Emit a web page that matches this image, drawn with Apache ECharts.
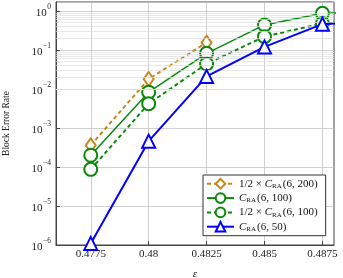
<!DOCTYPE html>
<html><head><meta charset="utf-8">
<script src="https://cdn.jsdelivr.net/npm/echarts@6/dist/echarts.min.js"></script>
<style>html,body{margin:0;padding:0;background:#fff}#c{width:343px;height:278px}</style>
</head><body><div id="c"></div>
<script>
var eps = [0.4775, 0.48, 0.4825, 0.485, 0.4875, 0.49];
var half200 = [3.6e-4, 1.8e-2, 0.155];
var c100 = [2.0e-4, 8.3e-3, 0.082, 0.44, 0.87, 0.92];
var half100 = [8.7e-5, 4.2e-3, 0.044, 0.22, 0.48, 0.58];
var c50 = [1.1e-6, 4.6e-4, 0.021, 0.12, 0.46, 0.56];
var xTicks = [0.4775, 0.48, 0.4825, 0.485, 0.4875];
var yExps = [-6, -5, -4, -3, -2, -1, 0];
var names = ['half200', 'c100', 'half100', 'c50'];
var legendTexts = {
  half200: '{n|1/2 × }{c|C}{s|RA}{n|(6, 200)}',
  c100: '{c|C}{s|RA}{n|(6, 100)}',
  half100: '{n|1/2 × }{c|C}{s|RA}{n|(6, 100)}',
  c50: '{c|C}{s|RA}{n|(6, 50)}'
};

function pairs(ys){ return ys.map(function(y,i){ return [eps[i], y]; }); }
var minorLines = [];
yExps.forEach(function(e){
  for (var m = 2; m <= 9; m++) {
    var v = m * Math.pow(10, e);
    if (v < 1.7) minorLines.push({yAxis: v});
  }
});

var FONT = 'Liberation Serif';
var chart = echarts.init(document.getElementById('c'), null, {renderer: 'canvas'});
var option = {
  animation: false,
  grid: {left: 56, right: 9, top: 2, bottom: 33, show: true, borderColor: '#444', borderWidth: 1,
    backgroundColor: 'transparent', containLabel: false, outerBoundsMode: 'none'},
  xAxis: {
    type: 'value', min: 0.476, max: 0.488,
    name: 'ε', nameLocation: 'middle', nameGap: 24,
    nameTextStyle: {fontFamily: FONT, fontStyle: 'italic', fontSize: 11, color: '#222'},
    axisLine: {show: true, lineStyle: {color: '#444', width: 1}},
    axisTick: {show: true, inside: true, length: 4, lineStyle: {color: '#444'}, customValues: xTicks},
    axisLabel: {fontFamily: FONT, fontSize: 11, color: '#222', margin: 4, customValues: xTicks,
      formatter: function(v){ return String(parseFloat(v.toFixed(4))); }},
    splitLine: {show: true, lineStyle: {color: '#c4c4c4', width: 0.8}}
  },
  yAxis: {
    type: 'log', min: 1e-6, max: 1.7, logBase: 10, interval: 1,
    name: 'Block Error Rate', nameLocation: 'middle', nameGap: 45,
    nameTextStyle: {fontFamily: FONT, fontSize: 9.5, color: '#222'},
    axisLine: {show: true, lineStyle: {color: '#444', width: 1}},
    axisTick: {show: true, inside: true, length: 4, lineStyle: {color: '#444'}},
    axisLabel: {fontFamily: FONT, color: '#222', margin: 5, showMaxLabel: false,
      formatter: function(v){
        var e = Math.log10(v); var r = Math.round(e);
        if (Math.abs(e - r) > 1e-6 || yExps.indexOf(r) < 0) return '';
        return '{b|10}{s|' + (r < 0 ? '−' + (-r) : r) + '}';
      },
      rich: {
        b: {fontFamily: FONT, fontSize: 11, color: '#222', lineHeight: 16, verticalAlign: 'bottom'},
        s: {fontFamily: FONT, fontSize: 7.5, color: '#222', lineHeight: 16, verticalAlign: 'top', padding: [0, 0, 0, 0.5]}
      }},
    splitLine: {show: true, lineStyle: {color: '#c4c4c4', width: 0.8}}
  },
  legend: {
    data: names, orient: 'vertical', left: 203, top: 175,
    backgroundColor: '#fff', borderColor: '#333', borderWidth: 1, borderRadius: 0,
    padding: [3, 8, 3, 3], itemWidth: 27, itemHeight: 12, itemGap: 2.5,
    formatter: function(n){ return legendTexts[n]; },
    textStyle: {
      fontFamily: FONT, fontSize: 11, color: '#111',
      rich: {
        n: {fontFamily: FONT, fontSize: 11, color: '#111'},
        c: {fontFamily: FONT, fontSize: 11, fontStyle: 'italic', color: '#111'},
        s: {fontFamily: FONT, fontSize: 7, color: '#111', padding: [5, 1, 0, 0]}
      }
    }
  },
  series: [
    {name: 'minor', type: 'line', data: [[0.476, 1e-6]], symbol: 'none', lineStyle: {opacity: 0}, silent: true, z: 1,
      markLine: {silent: true, symbol: ['none', 'none'], label: {show: false},
        lineStyle: {color: '#dcdcdc', width: 0.7, type: 'solid'}, data: minorLines, animation: false}},
    {name: 'half200', type: 'line', data: pairs(half200), z: 4,
      symbol: 'emptyDiamond', symbolSize: [10, 14],
      lineStyle: {color: '#c8871a', width: 2, type: [4, 3]},
      itemStyle: {color: '#c8871a', borderColor: '#c8871a', borderWidth: 1.8}},
    {name: 'c100', type: 'line', data: pairs(c100), z: 4,
      symbol: 'emptyCircle', symbolSize: 13,
      lineStyle: {color: '#0a880a', width: 1.5, type: 'solid'},
      itemStyle: {color: '#0a880a', borderColor: '#0a880a', borderWidth: 2}},
    {name: 'half100', type: 'line', data: pairs(half100), z: 4,
      symbol: 'emptyCircle', symbolSize: 13,
      lineStyle: {color: '#0a880a', width: 2, type: [4, 3]},
      itemStyle: {color: '#0a880a', borderColor: '#0a880a', borderWidth: 2}},
    {name: 'c50', type: 'line', data: pairs(c50), z: 5,
      symbol: 'emptyTriangle', symbolSize: 13,
      lineStyle: {color: '#0000ff', width: 2, type: 'solid'},
      itemStyle: {color: '#0000ff', borderColor: '#0000ff', borderWidth: 2}}
  ]
};
chart.setOption(option);
</script></body></html>
